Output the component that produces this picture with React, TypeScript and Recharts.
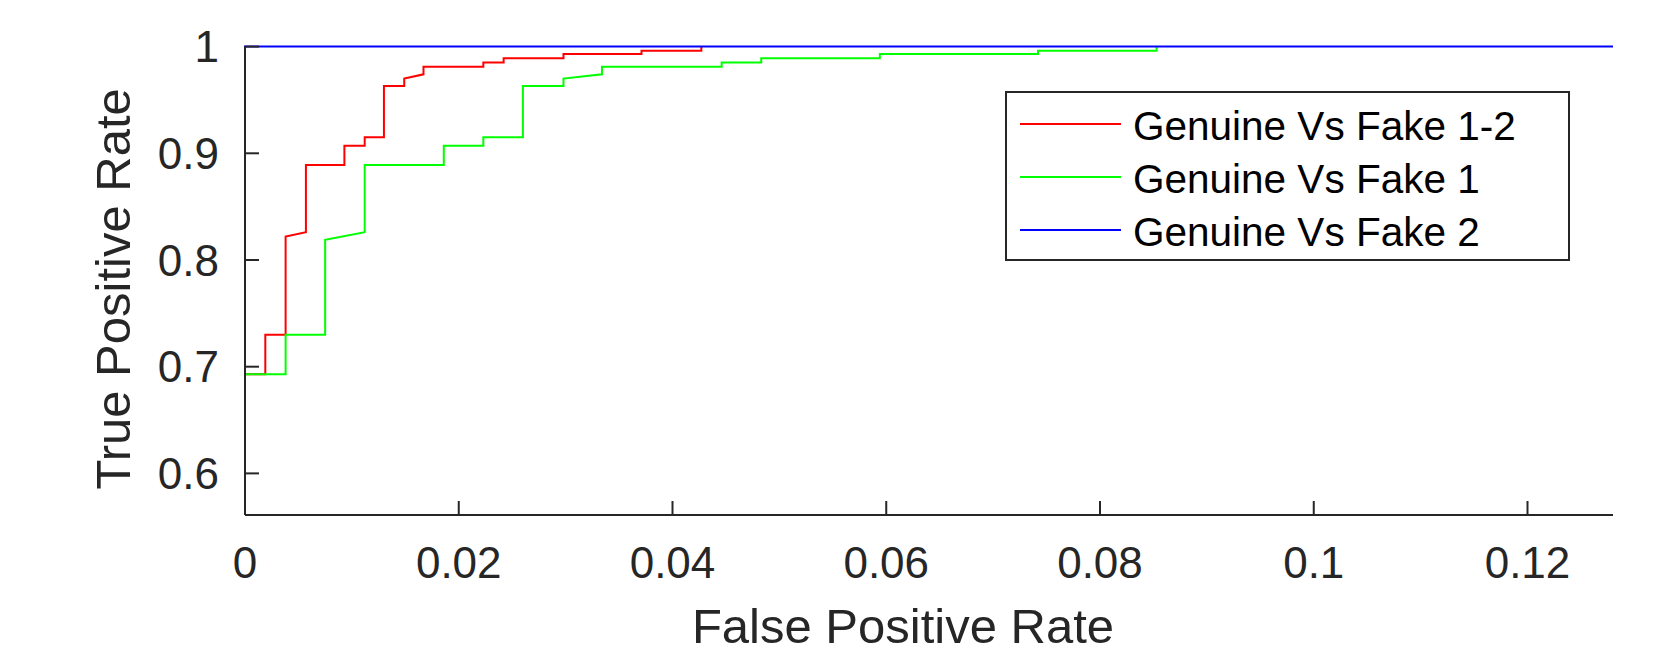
import { LineChart, Line, XAxis, YAxis, Legend } from 'recharts'

// ROC points (false positive rate / true positive rate)
const fake12Fpr = [0, 0.0019, 0.0019, 0.0038, 0.0038, 0.0057, 0.0057, 0.0093, 0.0093, 0.0112, 0.0112, 0.013, 0.013, 0.0149, 0.0149, 0.0167, 0.0167, 0.0223, 0.0223, 0.0242, 0.0242, 0.0298, 0.0298, 0.0371, 0.0371, 0.0427, 0.0427]
const fake12Tpr = [0.693, 0.693, 0.730, 0.730, 0.822, 0.826, 0.889, 0.889, 0.907, 0.907, 0.915, 0.915, 0.963, 0.963, 0.970, 0.974, 0.981, 0.981, 0.985, 0.985, 0.989, 0.989, 0.993, 0.993, 0.996, 0.996, 1]

const fake1Fpr = [0, 0.0038, 0.0038, 0.0075, 0.0075, 0.0112, 0.0112, 0.0186, 0.0186, 0.0223, 0.0223, 0.026, 0.026, 0.0298, 0.0298, 0.0334, 0.0334, 0.0446, 0.0446, 0.0483, 0.0483, 0.0594, 0.0594, 0.0742, 0.0742, 0.0853, 0.0853]
const fake1Tpr = [0.693, 0.693, 0.730, 0.730, 0.819, 0.826, 0.889, 0.889, 0.907, 0.907, 0.915, 0.915, 0.963, 0.963, 0.970, 0.974, 0.981, 0.981, 0.985, 0.985, 0.989, 0.989, 0.993, 0.993, 0.996, 0.996, 1]

const fake2Fpr = [0, 0, 0.128]
const fake2Tpr = [0.561, 1, 1]

const xTicks = [0, 0.02, 0.04, 0.06, 0.08, 0.1, 0.12]
const yTicks = [0.6, 0.7, 0.8, 0.9, 1]

const FONT = '"Liberation Sans", Arial, Helvetica, sans-serif'
const AX = '#262626'

const zip = (xs: number[], ys: number[]) => xs.map((x, i) => ({ x, y: ys[i] }))

const series = [
  { name: 'Genuine Vs Fake 1-2', color: '#ff0000', data: zip(fake12Fpr, fake12Tpr) },
  { name: 'Genuine Vs Fake 1', color: '#00ff00', data: zip(fake1Fpr, fake1Tpr) },
  { name: 'Genuine Vs Fake 2', color: '#0000ff', data: zip(fake2Fpr, fake2Tpr) },
]
const order = (name: string) => series.findIndex(s => s.name === name)

function LegendBox({ payload }: any) {
  // keep plotting order (recharts sorts legend items by name otherwise)
  const items = [...(payload || [])].sort((a: any, b: any) => order(a.value) - order(b.value))
  return (
    <div style={{
      boxSizing: 'border-box', width: 565, height: 170, border: `2px solid ${AX}`,
      background: '#fff', paddingTop: 5, fontFamily: FONT,
    }}>
      {items.map((p: any) => (
        <div key={p.value} style={{ display: 'flex', alignItems: 'center', height: 52.7 }}>
          <div style={{ marginLeft: 13, width: 101, height: 2, background: p.color }} />
          <span style={{ marginLeft: 12, fontSize: 40.5, color: '#000', lineHeight: '52px', position: 'relative', top: 2 }}>{p.value}</span>
        </div>
      ))}
    </div>
  )
}

export default function App() {
  return (
    <div style={{ position: 'absolute', left: 0, top: 0 }}>
      <LineChart width={1663} height={657} margin={{ top: 46.6, right: 50, left: 0, bottom: 0 }}>
        <XAxis
          type="number" dataKey="x" domain={[0, 0.128]} ticks={xTicks} interval={0}
          height={142} tickSize={-14} tickMargin={46}
          tickFormatter={(v: number) => String(v)}
          tick={{ fontSize: 44, fill: AX, fontFamily: FONT }}
          axisLine={{ stroke: AX, strokeWidth: 2 }} tickLine={{ stroke: AX, strokeWidth: 2 }}
          label={({ viewBox }: any) => (
            <text x={viewBox.x + viewBox.width / 2 - 26} y={643} textAnchor="middle"
              fontSize={49} fill={AX} fontFamily={FONT}>False Positive Rate</text>
          )}
        />
        <YAxis
          type="number" dataKey="y" domain={[0.561, 1]} ticks={yTicks} interval={0}
          width={245} tickSize={-14} tickMargin={40}
          tickFormatter={(v: number) => String(v)}
          tick={{ fontSize: 44, fill: AX, fontFamily: FONT }}
          axisLine={{ stroke: AX, strokeWidth: 2 }} tickLine={{ stroke: AX, strokeWidth: 2 }}
          label={({ viewBox }: any) => (
            <text x={130} y={viewBox.y + viewBox.height / 2 + 8} textAnchor="middle"
              transform={`rotate(-90 130 ${viewBox.y + viewBox.height / 2 + 8})`}
              fontSize={49} fill={AX} fontFamily={FONT}>True Positive Rate</text>
          )}
        />
        <Legend
          layout="horizontal" verticalAlign="middle" align="center"
          wrapperStyle={{ left: 1005, top: 91, width: 565, height: 170 }}
          content={<LegendBox />}
        />
        {series.map(s => (
          <Line key={s.name} data={s.data} dataKey="y" name={s.name} type="linear"
            stroke={s.color} strokeWidth={2} dot={false} activeDot={false}
            isAnimationActive={false} />
        ))}
      </LineChart>
    </div>
  )
}
